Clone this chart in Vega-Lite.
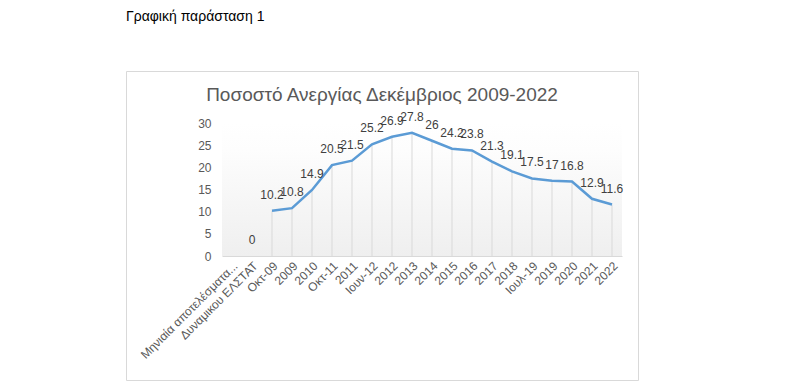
{
  "$schema": "https://vega.github.io/schema/vega-lite/v6.json",
  "padding": {"left": 125, "top": 9, "right": 10, "bottom": 5},
  "background": "white",
  "title": {"text": "Γραφική παράσταση 1", "anchor": "start", "frame": "group", "font": "Liberation Sans", "fontSize": 14, "fontWeight": "normal", "color": "#000000", "offset": 47},
  "config": {"view": {"stroke": "#d9d9d9", "strokeWidth": 1}, "font": "Liberation Sans"},
  "data": {"values": [
    {"cat": "Μηνιαία αποτελέσματα...", "v": null},
    {"cat": "Δυναμικου ΕΛΣΤΑΤ", "v": 0},
    {"cat": "Οκτ-09", "v": 10.2},
    {"cat": "2009", "v": 10.8},
    {"cat": "2010", "v": 14.9},
    {"cat": "Οκτ-11", "v": 20.5},
    {"cat": "2011", "v": 21.5},
    {"cat": "Ιουν-12", "v": 25.2},
    {"cat": "2012", "v": 26.9},
    {"cat": "2013", "v": 27.8},
    {"cat": "2014", "v": 26},
    {"cat": "2015", "v": 24.2},
    {"cat": "2016", "v": 23.8},
    {"cat": "2017", "v": 21.3},
    {"cat": "2018", "v": 19.1},
    {"cat": "Ιουλ-19", "v": 17.5},
    {"cat": "2019", "v": 17},
    {"cat": "2020", "v": 16.8},
    {"cat": "2021", "v": 12.9},
    {"cat": "2022", "v": 11.6}
  ]},
  "vconcat": [{
    "width": 512,
    "height": 309,
    "title": {"text": "Ποσοστό Ανεργίας Δεκέμβριος 2009-2022", "anchor": "middle", "frame": "group", "font": "Liberation Sans", "fontSize": 19, "fontWeight": "normal", "color": "#595959", "offset": -34},
    "encoding": {
      "x": {"field": "cat", "type": "nominal", "sort": null,
        "scale": {"type": "band", "range": [96, 496], "paddingInner": 0, "paddingOuter": 0},
        "axis": {"title": null, "orient": "bottom", "offset": -124, "labelAngle": -45, "labelFontSize": 12, "labelColor": "#595959", "labelFont": "Liberation Sans", "domainColor": "#d9d9d9", "ticks": false, "labelPadding": 4, "labelLimit": 200}
      }
    },
    "layer": [
      {
        "mark": {"type": "rect", "color": {"gradient": "linear", "x1": 0, "y1": 0, "x2": 0, "y2": 1, "stops": [{"offset": 0, "color": "#ffffff"}, {"offset": 0.2, "color": "#fdfdfd"}, {"offset": 1, "color": "#efefef"}]}, "strokeWidth": 0},
        "encoding": {
          "y": {"datum": 30, "type": "quantitative", "scale": {"domain": [0, 30], "range": [185, 52]},
            "axis": {"title": null, "orient": "left", "offset": -96, "values": [0, 5, 10, 15, 20, 25, 30], "domain": false, "ticks": false, "grid": false, "labelFontSize": 12, "labelColor": "#595959", "labelPadding": 11}},
          "y2": {"datum": 0}
        }
      },
      {
        "transform": [{"filter": "datum.v > 0"}],
        "mark": {"type": "rule", "color": "#d9d9d9", "strokeWidth": 1},
        "encoding": {
          "x": {"field": "cat", "type": "nominal", "sort": null, "bandPosition": 0.5},
          "y": {"field": "v", "type": "quantitative"},
          "y2": {"datum": 0}
        }
      },
      {
        "transform": [{"filter": "datum.v > 0"}],
        "mark": {"type": "line", "color": "#5b9bd5", "strokeWidth": 2.5},
        "encoding": {
          "x": {"field": "cat", "type": "nominal", "sort": null, "bandPosition": 0.5},
          "y": {"field": "v", "type": "quantitative"}
        }
      },
      {
        "transform": [{"filter": "datum.v != null"}],
        "mark": {"type": "text", "dy": -16, "fontSize": 12, "color": "#404040", "font": "Liberation Sans"},
        "encoding": {
          "x": {"field": "cat", "type": "nominal", "sort": null, "bandPosition": 0.5},
          "y": {"field": "v", "type": "quantitative"},
          "text": {"field": "v", "type": "quantitative"}
        }
      }
    ]
  }]
}
